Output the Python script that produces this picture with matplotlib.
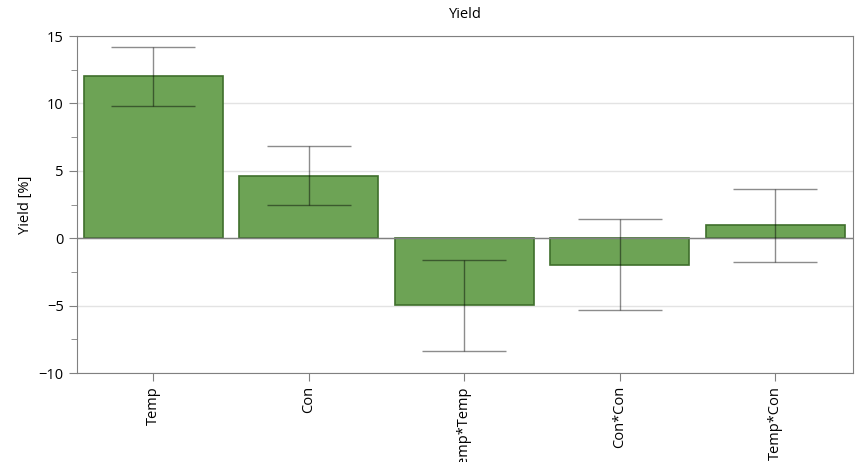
import matplotlib.pyplot as plt
import numpy as np

plt.rcParams['font.family'] = ['Open Sans', 'DejaVu Sans']

terms = ['Temp', 'Con', 'Temp*Temp', 'Con*Con', 'Temp*Con']
coefficients = [12.0, 4.65, -4.97, -1.95, 0.95]
conf_int = [2.2, 2.2, 3.37, 3.38, 2.7]

fig = plt.figure(figsize=(8.61, 4.62), dpi=100)
ax = fig.add_axes([0.0894, 0.1926, 0.9013, 0.7294])

x = np.arange(len(terms))
ax.bar(x, coefficients, width=0.893, color='#6da355', edgecolor='#3f6f2c',
       linewidth=1.2, zorder=2)
ax.errorbar(x, coefficients, yerr=conf_int, fmt='none', ecolor='black',
            alpha=0.45, elinewidth=1, capsize=30, capthick=1, zorder=3)
ax.axhline(0, color='#808080', linewidth=1, zorder=2.5)

ax.set_xlim(-0.49, 4.5)
ax.set_ylim(-10, 15)
ax.set_yticks([-10, -5, 0, 5, 10, 15])
ax.set_yticks(np.arange(-10, 15.1, 2.5), minor=True)
ax.set_xticks(x)
ax.set_xticklabels(terms, rotation=90, fontsize=10.5)
ax.tick_params(axis='y', labelsize=10.5, color='#808080', length=6)
ax.tick_params(axis='y', which='minor', color='#808080', length=4)
ax.tick_params(axis='x', color='#808080', length=6)
ax.grid(axis='y', color='#e3e3e3', linewidth=1, zorder=0)
ax.set_axisbelow(True)
for spine in ax.spines.values():
    spine.set_color('#808080')

ax.set_ylabel('Yield [%]', fontsize=10.5)
ax.set_title('Yield', fontsize=10.5, pad=13)

fig.savefig('out.png', dpi=100)
